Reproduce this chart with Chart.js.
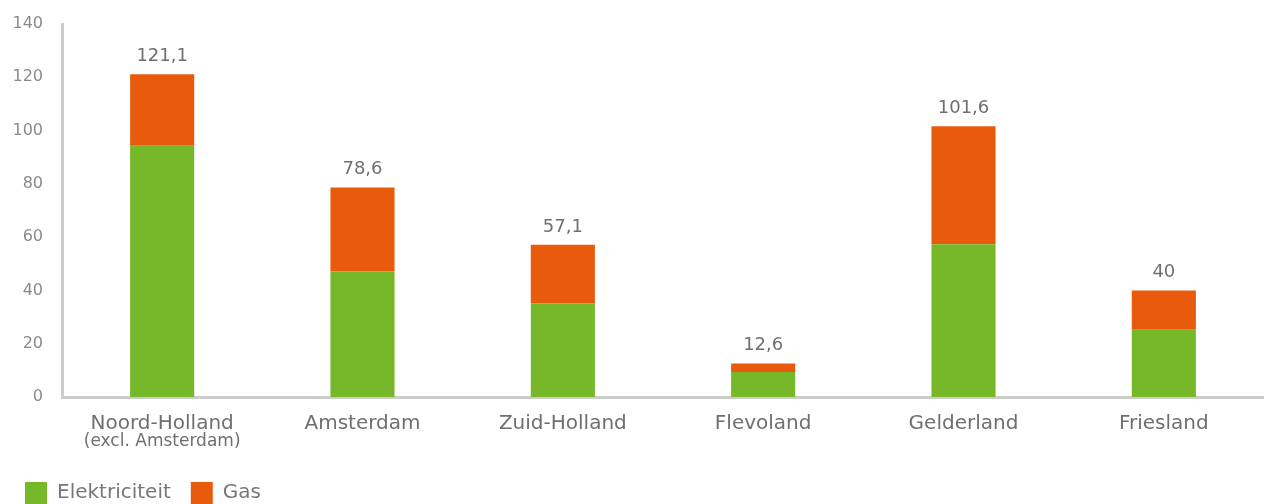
<!DOCTYPE html>
<html>
<head>
<meta charset="utf-8">
<script src="https://cdn.jsdelivr.net/npm/chart.js@4"></script>
<style>
    html, body { margin: 0; padding: 0; background: #fff; }
    #wrap { width: 1264px; height: 504px; }
</style>
</head>
<body>
<div id="wrap"><canvas id="energy-chart"></canvas></div>
<script>
// Data
const regions = ['Noord-Holland', 'Amsterdam', 'Zuid-Holland', 'Flevoland', 'Gelderland', 'Friesland'];
const subLabels = ['(excl. Amsterdam)', '', '', '', '', ''];
const elektriciteit = [94.3, 47.2, 35.2, 9.4, 57.3, 25.2];
const gas = [26.8, 31.4, 21.9, 3.2, 44.3, 14.8];
const totals = ['121,1', '78,6', '57,1', '12,6', '101,6', '40'];

const FONT = "'DejaVu Sans', sans-serif";

// Totals above each stack + second line under first category
const labelPlugin = {
    id: 'stackLabels',
    afterLayout(chart) {
        // push legend in a bit from the left edge
        chart.legend.left += 5;
    },
    afterDatasetsDraw(chart) {
        const ctx = chart.ctx;
        const meta = chart.getDatasetMeta(1);
        ctx.save();
        ctx.fillStyle = '#6f6f6f';
        ctx.font = `18px ${FONT}`;
        ctx.textAlign = 'center';
        ctx.textBaseline = 'bottom';
        meta.data.forEach((bar, i) => {
            ctx.fillText(totals[i], bar.x, bar.y - 9);
        });

        const xScale = chart.scales.x;
        ctx.font = `17px ${FONT}`;
        ctx.textBaseline = 'middle';
        subLabels.forEach((txt, i) => {
            if (txt) ctx.fillText(txt, xScale.getPixelForValue(i), 442);
        });
        ctx.restore();
    },
};

new Chart(document.getElementById('energy-chart'), {
    type: 'bar',
    data: {
        labels: regions,
        datasets: [
            { label: 'Elektriciteit', data: elektriciteit, backgroundColor: '#76b82a' },
            { label: 'Gas', data: gas, backgroundColor: '#e95b0c' },
        ],
    },
    options: {
        responsive: true,
        maintainAspectRatio: false,
        animation: false,
        layout: { padding: { left: 0, top: 24, right: 0, bottom: -10 } },
        datasets: {
            bar: { categoryPercentage: 1, barPercentage: 0.32 },
        },
        scales: {
            x: {
                stacked: true,
                grid: { display: false },
                border: { display: true, color: '#cccccc', width: 3 },
                ticks: { color: '#6f6f6f', font: { family: FONT, size: 20 }, padding: 7 },
                afterFit(scale) { scale.height = 65; },
            },
            y: {
                stacked: true,
                min: 0,
                max: 140,
                grid: { display: false },
                border: { display: true, color: '#cccccc', width: 3 },
                ticks: { stepSize: 20, color: '#8a8a8a', font: { family: FONT, size: 16 }, padding: 11 },
                afterFit(scale) { scale.width = 62; },
            },
        },
        plugins: {
            legend: {
                position: 'bottom',
                align: 'start',
                labels: {
                    boxWidth: 22,
                    boxHeight: 22,
                    padding: 20,
                    color: '#777',
                    font: { family: FONT, size: 20 },
                },
            },
            tooltip: { enabled: false },
        },
    },
    plugins: [labelPlugin],
});
</script>
</body>
</html>
